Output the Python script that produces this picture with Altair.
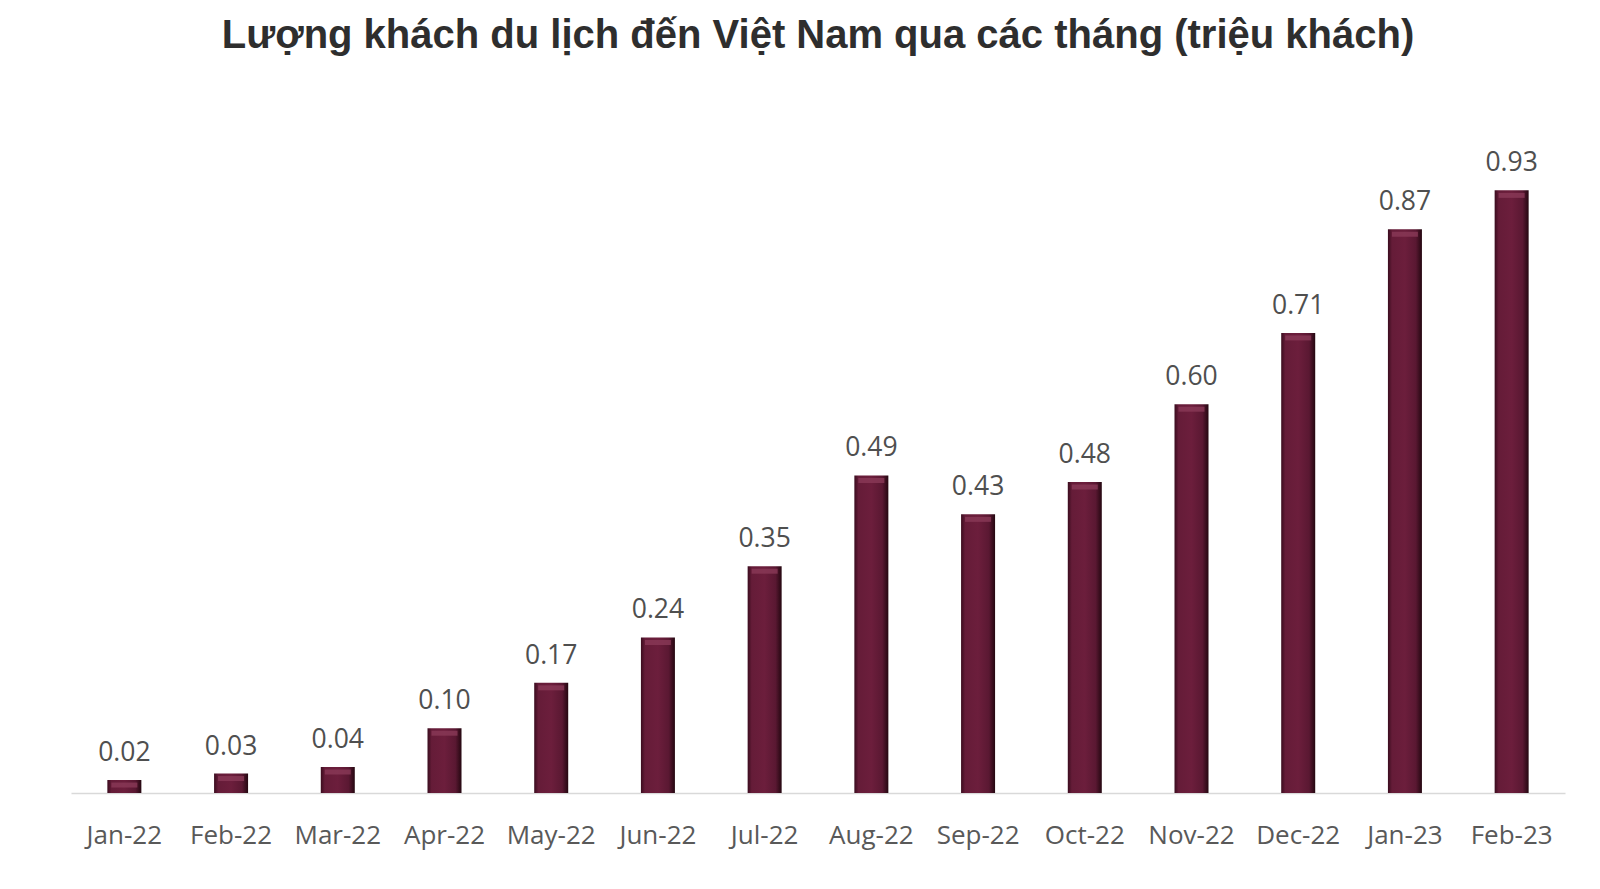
import altair as alt
import pandas as pd

months = ["Jan-22", "Feb-22", "Mar-22", "Apr-22", "May-22", "Jun-22", "Jul-22",
          "Aug-22", "Sep-22", "Oct-22", "Nov-22", "Dec-22", "Jan-23", "Feb-23"]
values = [0.02, 0.03, 0.04, 0.10, 0.17, 0.24, 0.35, 0.49, 0.43, 0.48, 0.60, 0.71, 0.87, 0.93]

df = pd.DataFrame({"month": months, "value": values})

grad = alt.Gradient(
    gradient="linear", x1=0, x2=1, y1=0, y2=0,
    stops=[
        alt.GradientStop(offset=0.0, color="#3a0c1e"),
        alt.GradientStop(offset=0.12, color="#651c38"),
        alt.GradientStop(offset=0.5, color="#6c1e3c"),
        alt.GradientStop(offset=0.82, color="#5a1832"),
        alt.GradientStop(offset=1.0, color="#240710"),
    ],
)

x = alt.X("month:N", sort=months, title=None,
          scale=alt.Scale(paddingInner=0.68, paddingOuter=0.34),
          axis=alt.Axis(labelAngle=0, labelFont="Open Sans", labelFontSize=26,
                        labelColor="#595959", labelPadding=29, ticks=False,
                        domainColor="#d9d9d9", domainWidth=1.5))
y = alt.Y("value:Q", title=None, scale=alt.Scale(domain=[0, 1], nice=False),
          axis=None)

bars = alt.Chart(df).mark_bar(color=grad, size=34).encode(x=x, y=y)

caps = alt.Chart(df).mark_tick(color="#8a3a58", thickness=5, size=26, yOffset=5, opacity=0.8).encode(x=x, y=y)

labels = alt.Chart(df).mark_text(
    font="Open Sans", fontSize=26.5, color="#4f4f4f", baseline="alphabetic", dy=-19
).encode(x=x, y=y, text=alt.Text("value:Q", format=".2f"))

chart = (bars + caps + labels).properties(
    width=1494, height=648,
    background="white",
    title=alt.TitleParams(
        "Lượng khách du lịch đến Việt Nam qua các tháng (triệu khách)",
        font="Liberation Sans", fontSize=40, fontWeight="bold", color="#2e2e2e",
        anchor="middle", baseline="alphabetic", offset=57,
    ),
    autosize=alt.AutoSizeParams(type="none"),
    padding={"left": 71, "top": 145, "right": 35, "bottom": 96},
).configure_view(strokeWidth=0, stroke=None)

chart.save("out.html", embed_options={"renderer": "svg", "actions": False})
